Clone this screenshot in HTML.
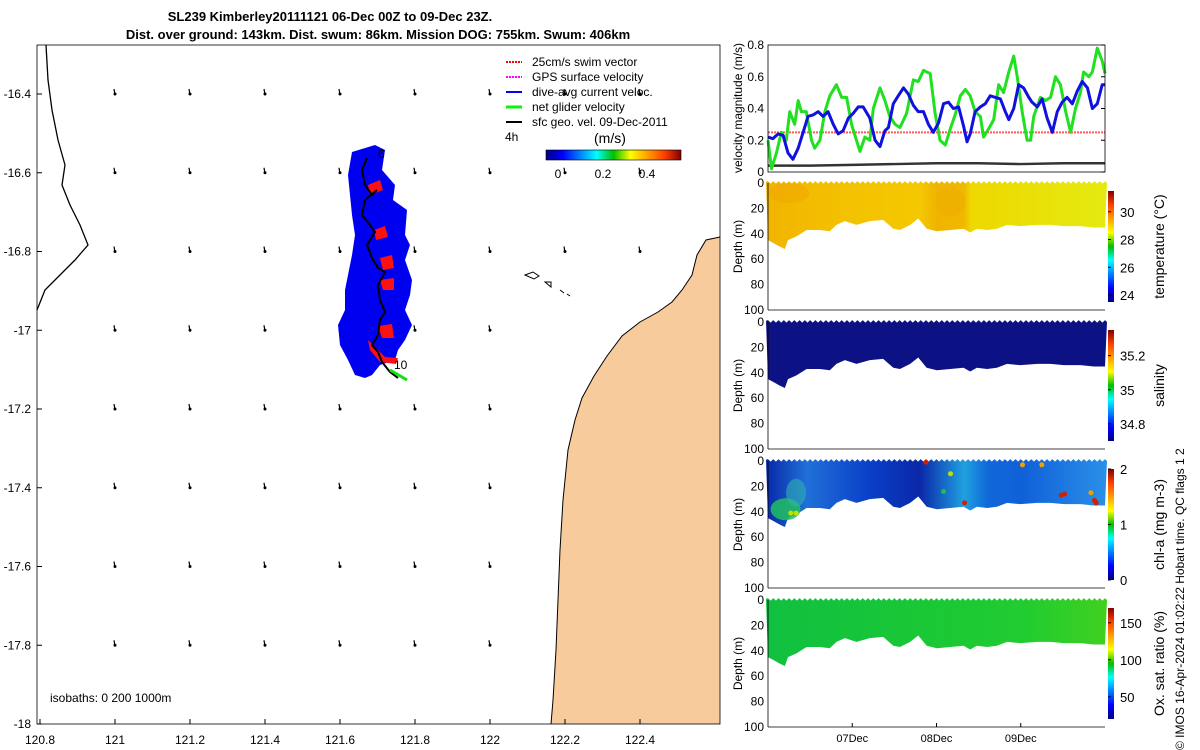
<!DOCTYPE html>
<html><head><meta charset="utf-8"><style>
html,body{margin:0;padding:0;background:#fff}
svg{display:block;font-family:"Liberation Sans","DejaVu Sans",sans-serif}
</style></head><body>
<svg id="fig" width="1200" height="750" viewBox="0 0 1200 750">
<defs>
<linearGradient id="jetV" x1="0" y1="1" x2="0" y2="0">
<stop offset="0" stop-color="#00007f"/><stop offset="0.125" stop-color="#0000ff"/><stop offset="0.375" stop-color="#00ffff"/><stop offset="0.5" stop-color="#00c000"/><stop offset="0.625" stop-color="#ffff00"/><stop offset="0.875" stop-color="#ff4000"/><stop offset="1" stop-color="#800000"/></linearGradient>
<linearGradient id="jetH" x1="0" y1="0" x2="1" y2="0">
<stop offset="0" stop-color="#00007f"/><stop offset="0.125" stop-color="#0000ff"/><stop offset="0.375" stop-color="#00ffff"/><stop offset="0.5" stop-color="#00c000"/><stop offset="0.625" stop-color="#ffff00"/><stop offset="0.875" stop-color="#ff4000"/><stop offset="1" stop-color="#800000"/></linearGradient>
<linearGradient id="gTemp" x1="0" y1="0" x2="1" y2="0">
<stop offset="0" stop-color="#f2b400"/><stop offset="0.2" stop-color="#f3c000"/><stop offset="0.45" stop-color="#f4c800"/><stop offset="0.5" stop-color="#f0b400"/><stop offset="0.58" stop-color="#f0b800"/><stop offset="0.6" stop-color="#eed800"/><stop offset="1" stop-color="#e4ea10"/></linearGradient>
<linearGradient id="gChl" x1="0" y1="0" x2="1" y2="0">
<stop offset="0" stop-color="#0828a8"/><stop offset="0.12" stop-color="#2070d8"/><stop offset="0.3" stop-color="#0a40c8"/><stop offset="0.45" stop-color="#0a28a8"/><stop offset="0.58" stop-color="#20a0e0"/><stop offset="0.65" stop-color="#1068d8"/><stop offset="0.75" stop-color="#1060d8"/><stop offset="1" stop-color="#2a90e8"/></linearGradient>
<linearGradient id="gOx" x1="0" y1="0" x2="1" y2="0">
<stop offset="0" stop-color="#10c040"/><stop offset="0.75" stop-color="#20cc30"/><stop offset="1" stop-color="#40d020"/></linearGradient>
</defs>

<text x="330" y="21" text-anchor="middle" font-size="13" font-weight="bold">SL239 Kimberley20111121 06-Dec 00Z to 09-Dec 23Z.</text>
<text x="378" y="39" text-anchor="middle" font-size="13" font-weight="bold">Dist. over ground: 143km. Dist. swum: 86km. Mission DOG: 755km. Swum: 406km</text>

<g id="map">
<polygon fill="#f8cb9c" points="720,237 706,240 697,255 692,275 682,290 672,302 658,312 640,322 622,336 607,356 594,376 582,398 575,420 568,450 563,500 560,550 558,600 556,650 553,700 551,724 720,724"/>
<g fill="none" stroke="#000" stroke-width="1">
<path d="M525,275 l8,-3 l6,4 l-5,3z M545,282 l6,0 l0,5z M560,290 l4,3 M567,294 l3,2"/>
<path d="M720,237 L706,240 L697,255 L692,275 L682,290 L672,302 L658,312 L640,322 L622,336 L607,356 L594,376 L582,398 L575,420 L568,450 L563,500 L560,550 L558,600 L556,650 L553,700 L551,724"/>
</g>
<polyline fill="none" stroke="#000" stroke-width="1.3" points="46,45 48,80 52,110 58,140 65,165 62,185 70,205 80,225 88,245 75,260 60,275 45,290 37,310"/>
<g id="vectors"></g>
<polygon fill="#0000f0" points="352,152 375,145 385,150 382,170 395,185 393,200 407,210 405,235 410,245 405,260 412,280 410,295 405,310 412,325 405,340 398,350 395,360 380,365 372,375 365,378 355,375 348,360 340,345 338,325 345,310 345,290 348,275 352,255 355,235 352,215 350,195 348,175"/>
<g fill="#ff1010">
<polygon points="368,185 380,180 383,190 370,195"/>
<polygon points="374,230 385,226 388,237 376,240"/>
<polygon points="380,258 392,255 394,268 383,270"/>
<polygon points="380,280 394,278 394,290 383,290"/>
<polygon points="378,326 392,324 394,338 382,338"/>
<polygon points="368,340 376,348 385,357 398,358 396,364 380,362 370,350"/>
</g>
<polyline fill="none" stroke="#000" stroke-width="2" points="367,158 362,170 365,185 372,195 377,190 365,200 362,215 370,225 375,232 367,245 372,258 378,268 385,272 378,285 380,300 385,312 380,320 378,335 372,345 378,352 382,362 390,372 398,378"/>
<line x1="390" y1="370" x2="407" y2="380" stroke="#10e010" stroke-width="3"/>
<text x="378" y="158" font-size="12">6</text>
<text x="394" y="369" font-size="12">10</text>
<text x="50" y="702" font-size="12">isobaths: 0   200  1000m</text>
<rect x="37" y="45" width="683" height="679" fill="none" stroke="#000" stroke-width="0.8"/>
<g id="mapticks" font-size="12"></g>

<g font-size="12">
<line x1="506" y1="62" x2="522" y2="62" stroke="#f00" stroke-dasharray="2,1" stroke-width="2"/><text x="532" y="66">25cm/s swim vector</text>
<line x1="506" y1="77" x2="522" y2="77" stroke="#f0f" stroke-dasharray="2,1" stroke-width="2"/><text x="532" y="81">GPS surface velocity</text>
<line x1="506" y1="92" x2="522" y2="92" stroke="#00f" stroke-width="2"/><text x="532" y="96">dive-avg current veloc.</text>
<line x1="506" y1="107" x2="522" y2="107" stroke="#1e1" stroke-width="3"/><text x="532" y="111">net glider velocity</text>
<line x1="506" y1="122" x2="522" y2="122" stroke="#000" stroke-width="2"/><text x="532" y="126">sfc geo. vel. 09-Dec-2011</text>
<text x="505" y="141">4h</text>
<text x="594" y="143" font-size="14">(m/s)</text>
<rect x="546" y="150" width="135" height="10" fill="url(#jetH)" stroke="#000" stroke-width="0.6"/>
<text x="558" y="178" text-anchor="middle">0</text><text x="603" y="178" text-anchor="middle">0.2</text><text x="647" y="178" text-anchor="middle">0.4</text>
</g>
</g>

<g id="vel"></g>
<g id="sections"></g>

<text transform="translate(1184,750) rotate(-90)" font-size="12">© IMOS 16-Apr-2024 01:02:22 Hobart time. QC flags 1  2</text>
</svg>
<script>
// ---- data ----
const greenHours=[0,1,2.4,3.8,5.2,6.2,7.6,8.6,9.5,10.9,12.4,13.3,14.8,16.2,17.6,19.5,21,22.4,23.8,25.2,26.2,27.6,29,30,31.9,33.3,34.7,36.2,37.6,39.5,41.4,42.8,44.3,46.2,47.6,49,50.5,51.9,53.3,54.8,56.2,57.6,59,60.5,61.4,62.8,64.3,65.7,67.1,68.6,70,71,72.4,73.8,74.8,75.7,77.6,79,80.5,81.9,83.3,84.8,86.2,87.6,89,89.9,91.4,92.4,93.8,95.2,96];
const greenVel=[0.2,0.02,0.12,0.25,0.2,0.38,0.3,0.45,0.38,0.38,0.2,0.15,0.2,0.38,0.48,0.55,0.47,0.47,0.3,0.2,0.13,0.22,0.2,0.4,0.53,0.45,0.35,0.3,0.28,0.37,0.58,0.57,0.64,0.62,0.37,0.2,0.17,0.27,0.36,0.48,0.52,0.48,0.38,0.35,0.22,0.27,0.33,0.55,0.5,0.63,0.73,0.6,0.38,0.2,0.2,0.35,0.47,0.45,0.47,0.6,0.55,0.38,0.25,0.4,0.5,0.63,0.6,0.63,0.78,0.7,0.62];
const blueHours=[0,1.4,2.9,4.3,5.7,7.1,8.6,10,11.4,12.9,14.3,15.7,17.1,18.6,20,21.4,22.9,24.3,25.7,27.1,29,30.5,31.9,33.3,34.3,35.7,37.1,38.6,40,41.4,42.8,44.3,45.7,47.1,48.6,50,51.4,52.8,54.3,55.7,56.7,57.6,59,60.5,61.9,63.3,64.8,66.2,67.6,68.6,70,71.4,72.8,74.3,75.2,76.7,78.1,79.5,81,82.4,83.8,85.2,86.7,88.1,89.5,91,92.4,93.8,95.2,96];
const blueVel=[0.22,0.21,0.24,0.23,0.12,0.08,0.15,0.25,0.35,0.36,0.38,0.35,0.38,0.3,0.24,0.26,0.34,0.37,0.41,0.41,0.34,0.2,0.16,0.26,0.28,0.43,0.48,0.53,0.49,0.42,0.38,0.38,0.3,0.25,0.31,0.43,0.44,0.4,0.41,0.29,0.19,0.24,0.38,0.41,0.43,0.48,0.47,0.46,0.38,0.33,0.4,0.55,0.53,0.47,0.44,0.41,0.46,0.34,0.25,0.38,0.44,0.47,0.43,0.51,0.57,0.53,0.4,0.43,0.55,0.55];
const geoHours=[0,12,24,36,48,60,72,84,96];
const geoVel=[0.04,0.04,0.045,0.05,0.055,0.055,0.05,0.055,0.055];
const swimVel=0.25;
const velTicks=[0,0.2,0.4,0.6,0.8];
const bottomHours=[0,1.4,3.3,4.8,5.7,8.1,11,14.8,17.6,19.5,21.9,25.2,29,32.8,35.7,37.6,40.5,42.8,45.2,48.1,51.9,55.7,57.6,59.5,62.4,65.2,68.1,71.9,76.7,80.5,84.3,89,92.8,96];
const bottomDepth=[45,47,50,52,45,42,37,37,38,33,30,33,30,29,36,37,33,28,36,38,37,36,39,36,37,36,33,34,33,33,34,34,35,35];
const dayLabels=["07Dec","08Dec","09Dec"];
const dayHours=[24,48,72];
const depthTicks=[0,20,40,60,80,100];
const panels=[
 {name:"temperature",fill:"url(#gTemp)",label:"temperature (°C)",min:23.5,max:31.5,ticks:[24,26,28,30]},
 {name:"salinity",fill:"#0c1284",label:"salinity",min:34.7,max:35.35,ticks:[34.8,35,35.2]},
 {name:"chl-a",fill:"url(#gChl)",label:"chl-a (mg m-3)",min:0,max:2,ticks:[0,1,2]},
 {name:"oxygen",fill:"url(#gOx)",label:"Ox. sat. ratio (%)",min:20,max:170,ticks:[50,100,150]}
];
const chlSpots=[[6.5,41,1.3],[8,41,1.4],[45,1,1.9],[52,10,1.3],[56,33,1.9],[72.5,3,1.6],[78,3,1.6],[83.5,27,1.9],[84.5,26,1.9],[92,25,1.6],[93,31,1.9],[93.5,33,1.8],[50,24,1.1]];
const mapLonTicks=[120.8,121,121.2,121.4,121.6,121.8,122,122.2,122.4];
const mapLatTicks=[-16.4,-16.6,-16.8,-17,-17.2,-17.4,-17.6,-17.8,-18];
const vecLon=[121,121.2,121.4,121.6,121.8,122,122.2,122.4];
const vecLat=[-16.4,-16.6,-16.8,-17,-17.2,-17.4,-17.6,-17.8];

const NS="http://www.w3.org/2000/svg";
function mk(parent,tag,attrs,txt){const e=document.createElementNS(NS,tag);for(const k in attrs)e.setAttribute(k,attrs[k]);if(txt!==undefined)e.textContent=txt;parent.appendChild(e);return e;}

const lonX=v=>115+(v-121)*375;
const latY=v=>94+(-16.4-v)*393.75;
const mt=document.getElementById('mapticks');
mapLonTicks.forEach(v=>{const t=mk(mt,'text',{x:lonX(v),y:744,'text-anchor':'middle'},String(v));


mk(mt,'line',{x1:lonX(v),x2:lonX(v),y1:724,y2:719,stroke:'#000'});});
mapLatTicks.forEach(v=>{const t=mk(mt,'text',{x:31,y:latY(v)+4,'text-anchor':'end'},String(v));


mk(mt,'line',{x1:37,x2:42,y1:latY(v),y2:latY(v),stroke:'#000'});});
const vg=document.getElementById('vectors');
vecLon.forEach(lo=>vecLat.forEach(la=>{const x=lonX(lo),y=latY(la);
if(x>540&&y>260)return;
const l=mk(vg,'path',{d:`M${x-1},${y-5} L${x},${y+1}`,stroke:'#000','stroke-width':1.2,fill:'none'});


mk(vg,'circle',{cx:x,cy:y,r:1.5,fill:'#000'});}));

const X0=768,X1=1105;
const tx=h=>X0+(h/96)*(X1-X0);

const vel=document.getElementById('vel');
const VT=45,VB=172;
const vy=v=>VB-(v/0.8)*(VB-VT);
velTicks.forEach(v=>{const t=mk(vel,'text',{x:764,y:vy(v)+4,'text-anchor':'end','font-size':12},String(v));


mk(vel,'line',{x1:X1,x2:X1-4,y1:vy(v),y2:vy(v),stroke:'#000'});});
const yl=mk(vel,'text',{transform:`translate(742,108) rotate(-90)`,'text-anchor':'middle','font-size':12},'velocity magnitude (m/s)');


const sw=mk(vel,'line',{x1:X0,x2:X1,y1:vy(swimVel),y2:vy(swimVel),stroke:'#ff3030','stroke-width':2,'stroke-dasharray':'2,1',opacity:0.8});


function line(hs,vs,col,w,name){const p=mk(vel,'polyline',{points:hs.map((h,i)=>tx(h)+','+vy(vs[i])).join(' '),fill:'none',stroke:col,'stroke-width':w,'stroke-linejoin':'round'});

}
line(geoHours,geoVel,'#333',2.5,'geostrophic-velocity-line');
line(greenHours,greenVel,'#20e020',3,'net-glider-velocity-line');
line(blueHours,blueVel,'#1010e0',3,'dive-avg-velocity-line');
mk(vel,'rect',{x:X0,y:VT,width:X1-X0,height:VB-VT,fill:'none',stroke:'#000','stroke-width':0.8});

const sec=document.getElementById('sections');
const panelTops=[183,322,461,600],PH=127;
panels.forEach((p,i)=>{
 const T=panelTops[i],dy=d=>T+d/100*PH;
 const g=mk(sec,'g',{});
 
 
 let pts=`${X0-2},${dy(-1)} `;
 for(let h=0;h<=96;h+=1.5){pts+=`${tx(h)},${dy(-1.5)} ${tx(h+0.75)},${dy(0.5)} `;}
 pts+=`${X1+2},${dy(0)} `;
 for(let k=bottomHours.length-1;k>=0;k--)pts+=`${tx(bottomHours[k])},${dy(bottomDepth[k])} `;
 mk(g,'polygon',{points:pts,fill:p.fill});
 if(p.name==='temperature'){mk(g,'ellipse',{cx:tx(6),cy:dy(8),rx:20,ry:10,fill:'#f0a800',opacity:0.6});mk(g,'ellipse',{cx:tx(52),cy:dy(15),rx:15,ry:15,fill:'#eeac00',opacity:0.5});}
 if(p.name==='chl-a'){mk(g,'ellipse',{cx:tx(5),cy:dy(38),rx:15,ry:11,fill:'#20c060',opacity:0.85});mk(g,'ellipse',{cx:tx(8),cy:dy(25),rx:10,ry:14,fill:'#30b0b0',opacity:0.6});
  chlSpots.forEach(s=>{const c=mk(g,'circle',{cx:tx(s[0]),cy:dy(s[1]),r:2.5,fill:s[2]>1.7?'#d02000':(s[2]>1.45?'#f0a000':(s[2]>1.2?'#c0e000':'#20c040'))});
  
  });}
 mk(g,'line',{x1:X0,x2:X0,y1:T,y2:T+PH,stroke:'#000','stroke-width':0.8});
 mk(g,'line',{x1:X0,x2:X1,y1:T+PH,y2:T+PH,stroke:'#000','stroke-width':0.8});
 depthTicks.forEach(d=>{const t=mk(g,'text',{x:764,y:dy(d)+4,'text-anchor':'end','font-size':12},String(d));
 
 });
 const dl=mk(g,'text',{transform:`translate(742,${T+PH/2}) rotate(-90)`,'text-anchor':'middle','font-size':12},'Depth (m)');
 
 
 const cb=mk(g,'rect',{x:1108,y:T+8,width:6,height:PH-16,fill:'url(#jetV)'});
 
 
 const cy=v=>T+PH-8-(v-p.min)/(p.max-p.min)*(PH-16);
 p.ticks.forEach(v=>{mk(g,'line',{x1:1108,x2:1111,y1:cy(v),y2:cy(v),stroke:'#000'});
 const t=mk(g,'text',{x:1120,y:cy(v)+5,'font-size':13},String(v));
 
 });
 const cl=mk(g,'text',{transform:`translate(1164,${T+PH/2}) rotate(-90)`,'text-anchor':'middle','font-size':14},p.label);
 
 
 if(i===3){dayHours.forEach((h,k)=>{mk(g,'line',{x1:tx(h),x2:tx(h),y1:T+PH,y2:T+PH-4,stroke:'#000'});
 const t=mk(g,'text',{x:tx(h),y:742,'text-anchor':'middle','font-size':11},dayLabels[k]);
 
 });}
});
</script>
</body></html>
